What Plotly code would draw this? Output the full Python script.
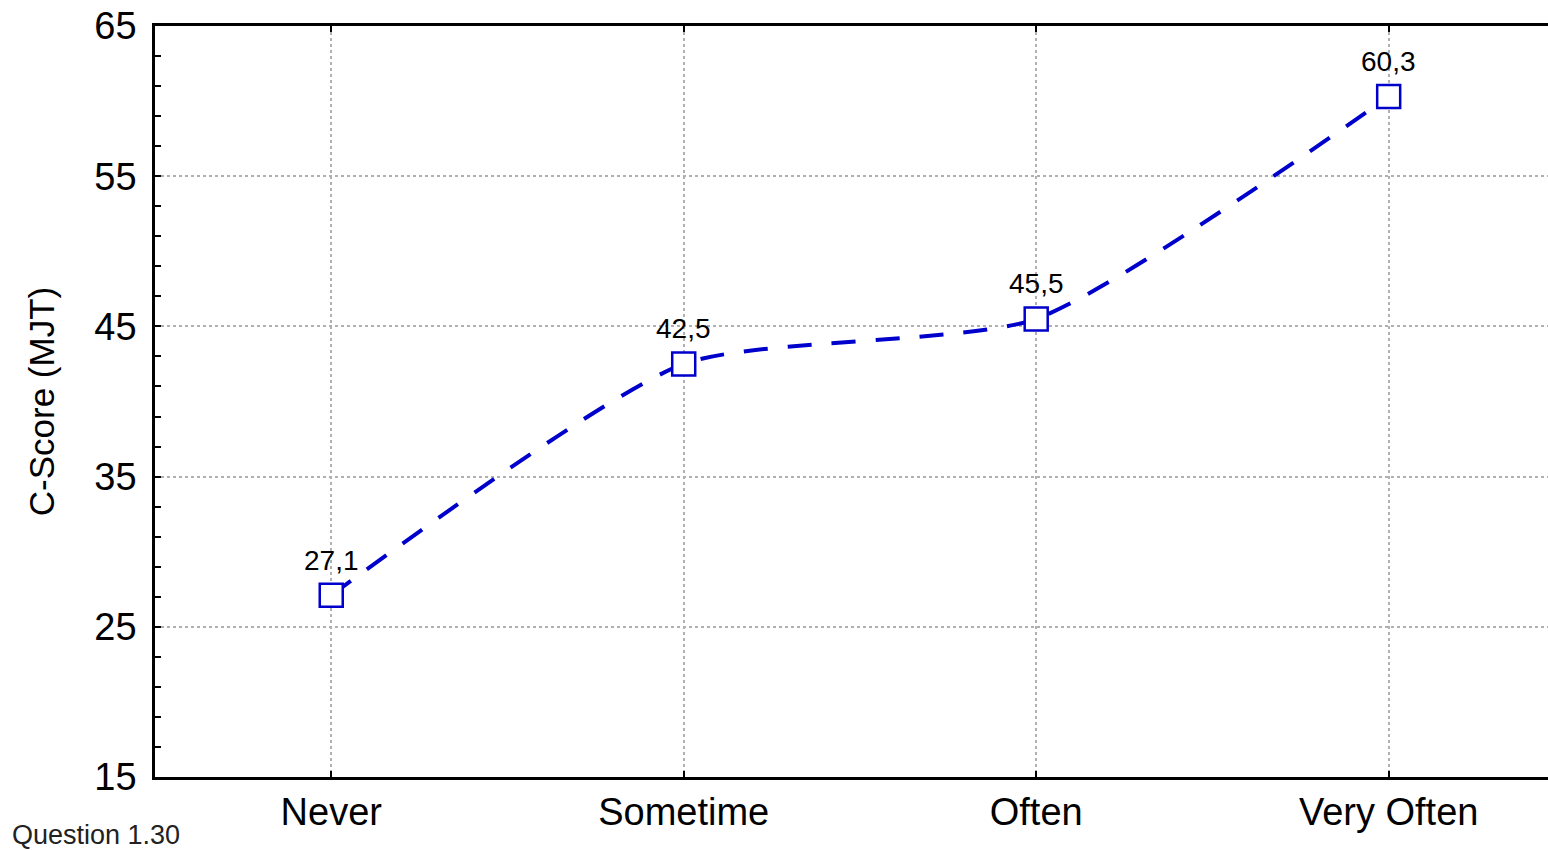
import plotly.graph_objects as go

categories = ["Never", "Sometime", "Often", "Very Often"]
values = [27.1, 42.5, 45.5, 60.3]
value_labels = ["27,1", "42,5", "45,5", "60,3"]
y_ticks = [15, 25, 35, 45, 55, 65]

FONT = "Arial, Liberation Sans, sans-serif"
BLUE = "#0000CC"
xpos = list(range(len(categories)))

fig = go.Figure()
fig.add_trace(go.Scatter(
    x=xpos, y=values, mode="lines",
    line=dict(color=BLUE, width=4, dash="24px,20px", shape="spline", smoothing=0.6),
    hoverinfo="skip", showlegend=False,
))
fig.add_trace(go.Scatter(
    x=xpos, y=values, mode="markers",
    marker=dict(symbol="square", size=23, color="white", line=dict(color=BLUE, width=2.5)),
    showlegend=False,
))

for xi, v, lab in zip(xpos, values, value_labels):
    fig.add_annotation(x=xi, y=v, text=lab, showarrow=False, yshift=35,
                       font=dict(family=FONT, size=28, color="black"))

fig.add_annotation(xref="paper", yref="paper", x=0, y=0, xshift=-145, yshift=-58,
                   xanchor="left", yanchor="middle", text="Question 1.30", showarrow=False,
                   font=dict(family=FONT, size=27, color="#222222"))

fig.update_layout(
    width=1548, height=850,
    margin=dict(l=155, r=0, t=26, b=73),
    paper_bgcolor="white", plot_bgcolor="white",
    font=dict(family=FONT, color="black"),
)
fig.update_xaxes(
    range=[-0.5, 3.452], tickmode="array", tickvals=xpos, ticktext=categories,
    tickfont=dict(size=38, color="black"),
    showline=True, linecolor="black", linewidth=2.5, mirror="ticks",
    ticks="inside", ticklen=6, tickwidth=2, tickcolor="black",
    showgrid=True, gridcolor="#b0b0b0", griddash="dot", gridwidth=1.5,
    zeroline=False,
)
fig.update_yaxes(
    range=[15, 65], tickmode="array", tickvals=y_ticks,
    tickfont=dict(size=38, color="black"),
    showline=True, linecolor="black", linewidth=2.5, mirror=False,
    ticks="inside", ticklen=6, tickwidth=2, tickcolor="black",
    minor=dict(dtick=2, tick0=15, ticks="inside", ticklen=6, tickwidth=2, tickcolor="black", showgrid=False),
    showgrid=True, gridcolor="#b0b0b0", griddash="dot", gridwidth=1.5,
    zeroline=False, ticklabelstandoff=8,
    title=dict(text="C-Score (MJT)", font=dict(size=35, color="black"), standoff=30),
)

fig.write_html("out.html", config={"displayModeBar": False},
               post_script="document.body.style.margin='0';document.body.style.overflow='hidden';")
